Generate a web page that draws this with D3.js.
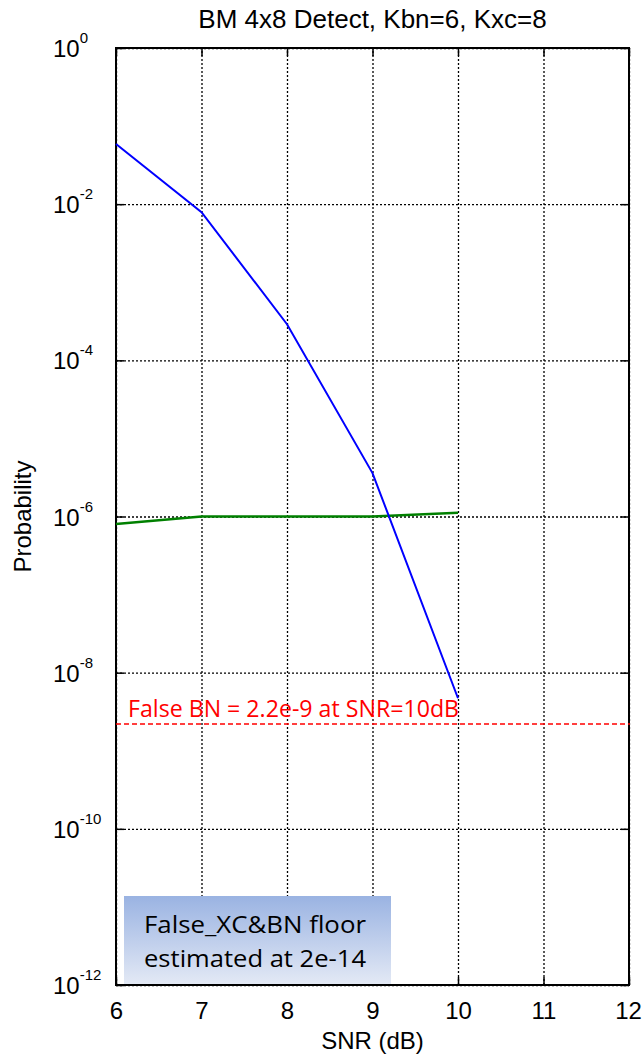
<!DOCTYPE html>
<html>
<head>
<meta charset="utf-8">
<script src="https://cdn.jsdelivr.net/npm/d3@7"></script>
<style>
  body { margin: 0; background: #fff; }
  svg { display: block; font-family: "Liberation Sans", Arial, sans-serif; }
  .grid line { stroke: #000; stroke-width: 1.3; stroke-dasharray: 2,2; }
  .grid path { display: none; }
  .ticks path { display: none; }
  .ticks line { stroke: #000; stroke-width: 1.5; }
</style>
</head>
<body>
<svg width="642" height="1056"></svg>
<script>
// data
const snr = [6, 7, 8, 9, 10];
const detectProb = [0.059, 0.0079, 2.9e-4, 3.6e-6, 4.7e-9];
const xcProb = [8.0e-7, 1.0e-6, 1.0e-6, 1.0e-6, 1.12e-6];
const falseBN = 2.2e-9;
const xTicks = [6, 7, 8, 9, 10, 11, 12];
const yTicks = [1, 1e-2, 1e-4, 1e-6, 1e-8, 1e-10, 1e-12];
const yExponents = ["0", "-2", "-4", "-6", "-8", "-10", "-12"];

const svg = d3.select("svg");
const plotL = 116, plotR = 629, plotT = 48, plotB = 985;

const x = d3.scaleLinear().domain([6, 12]).range([plotL, plotR]);
const y = d3.scaleLog().domain([1e-12, 1]).range([plotB, plotT]);

// dotted grid
svg.append("g")
  .attr("class", "grid")
  .attr("transform", `translate(0,${plotB})`)
  .call(d3.axisBottom(x).tickValues(xTicks).tickSize(-(plotB - plotT)).tickFormat(""));

svg.append("g")
  .attr("class", "grid")
  .attr("transform", `translate(${plotL},0)`)
  .call(d3.axisLeft(y).tickValues(yTicks).tickSize(-(plotR - plotL)).tickFormat(""));

// inward ticks on all four sides
svg.append("g")
  .attr("class", "ticks xaxis")
  .attr("transform", `translate(0,${plotB})`)
  .call(d3.axisBottom(x).tickValues(xTicks).tickSize(-8).tickPadding(17).tickFormat(d3.format("d")));

svg.append("g")
  .attr("class", "ticks")
  .attr("transform", `translate(0,${plotT})`)
  .call(d3.axisTop(x).tickValues(xTicks).tickSize(-8).tickFormat(""));

svg.append("g")
  .attr("class", "ticks")
  .attr("transform", `translate(${plotL},0)`)
  .call(d3.axisLeft(y).tickValues(yTicks).tickSize(-8).tickFormat(""));

svg.append("g")
  .attr("class", "ticks")
  .attr("transform", `translate(${plotR},0)`)
  .call(d3.axisRight(y).tickValues(yTicks).tickSize(-8).tickFormat(""));

svg.selectAll(".xaxis text")
  .attr("font-family", "Liberation Sans, Arial, sans-serif")
  .attr("font-size", 24)
  .attr("fill", "#000")
  .attr("dx", d => d === 12 ? -1 : 0);

// y labels as 10 with superscript exponent
const yLab = svg.append("g");
yTicks.forEach((v, i) => {
  const t = yLab.append("text")
    .attr("x", 53)
    .attr("y", y(v) + 9)
    .attr("font-size", 24)
    .attr("fill", "#000");
  t.append("tspan").text("10");
  t.append("tspan")
    .attr("font-size", 15)
    .attr("dy", -14)
    .text(yExponents[i]);
});

// frame
svg.append("rect")
  .attr("x", plotL).attr("y", plotT)
  .attr("width", plotR - plotL).attr("height", plotB - plotT)
  .attr("fill", "none")
  .attr("stroke", "#000")
  .attr("stroke-width", 2);

// floor reference line
svg.append("line")
  .attr("x1", plotL).attr("x2", plotR + 1)
  .attr("y1", y(falseBN)).attr("y2", y(falseBN))
  .attr("stroke", "#ff0000")
  .attr("stroke-width", 1.5)
  .attr("stroke-dasharray", "5,3");

svg.append("text")
  .attr("x", 128)
  .attr("y", 717)
  .attr("font-family", "Open Sans, Noto Sans, sans-serif")
  .attr("font-size", 23)
  .attr("textLength", 331)
  .attr("lengthAdjust", "spacingAndGlyphs")
  .attr("fill", "#ff0000")
  .text("False BN = 2.2e-9 at SNR=10dB");

const line = d3.line()
  .x((d, i) => x(snr[i]))
  .y(d => y(d));

svg.append("path")
  .datum(xcProb)
  .attr("d", line)
  .attr("fill", "none")
  .attr("stroke", "#008000")
  .attr("stroke-width", 2.5);

svg.append("path")
  .datum(detectProb)
  .attr("d", line)
  .attr("fill", "none")
  .attr("stroke", "#0000ff")
  .attr("stroke-width", 2);

// annotation box
const grad = svg.append("defs").append("linearGradient")
  .attr("id", "boxfill")
  .attr("x1", 0).attr("y1", 0).attr("x2", 0).attr("y2", 1);
grad.append("stop").attr("offset", "0%").attr("stop-color", "#9ab3e2");
grad.append("stop").attr("offset", "100%").attr("stop-color", "#e3e9f5");

svg.append("rect")
  .attr("x", 124).attr("y", 896)
  .attr("width", 267).attr("height", plotB - 896 - 1)
  .attr("fill", "url(#boxfill)");

["False_XC&BN floor", "estimated at 2e-14"].forEach((s, i) => {
  svg.append("text")
    .attr("x", 144)
    .attr("y", 933 + i * 34)
    .attr("font-family", "Open Sans, Noto Sans, sans-serif")
    .attr("font-size", 24)
    .attr("textLength", 222)
    .attr("lengthAdjust", "spacingAndGlyphs")
    .attr("fill", "#000")
    .text(s);
});

// titles
svg.append("text")
  .attr("x", (plotL + plotR) / 2)
  .attr("y", 28)
  .attr("text-anchor", "middle")
  .attr("font-size", 26)
  .text("BM 4x8 Detect, Kbn=6, Kxc=8");

svg.append("text")
  .attr("x", (plotL + plotR) / 2)
  .attr("y", 1049)
  .attr("text-anchor", "middle")
  .attr("font-size", 24)
  .text("SNR (dB)");

svg.append("text")
  .attr("transform", `translate(31,${(plotT + plotB) / 2}) rotate(-90)`)
  .attr("text-anchor", "middle")
  .attr("font-size", 24)
  .text("Probability");
</script>
</body>
</html>
